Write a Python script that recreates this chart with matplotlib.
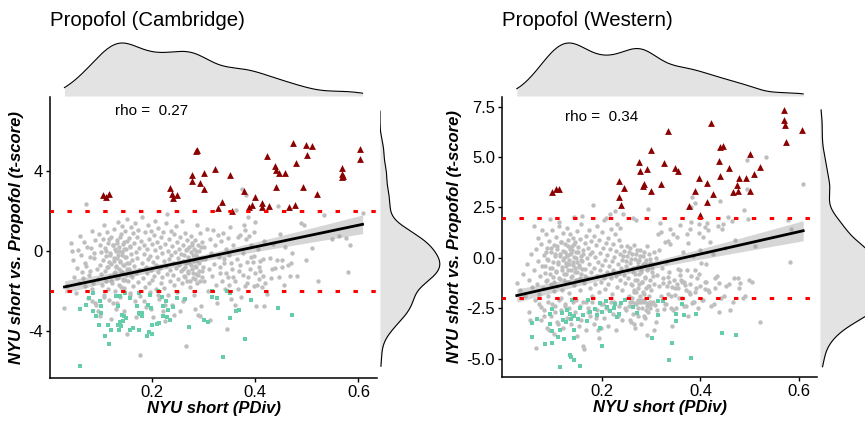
import numpy as np
import matplotlib.pyplot as plt

plt.rcParams['font.family'] = ['Liberation Sans', 'DejaVu Sans']

# ---------------- data ----------------
# x = NYU short (PDiv), y = t-score

cam_title = 'Propofol (Cambridge)'
cam_rho = 'rho =  0.27'

cam_grey = [
    (0.031, -2.85), (0.036, -1.75), (0.044, 0.38), (0.046, -0.03), (0.047, -0.45), (0.05, -1.3),
    (0.053, -2.1), (0.056, -0.85), (0.058, 0.05), (0.059, -1.6),
    (0.061, 0.75), (0.063, -0.2), (0.064, -1.05), (0.066, -1.37), (0.068, 0.45), (0.07, -1.78),
    (0.071, -0.6), (0.073, -0.78), (0.073, 2.37), (0.075, 0.2), (0.077, -2.35), (0.078, -1.2),
    (0.08, -1.03), (0.081, -0.3), (0.083, 0.13), (0.084, 1.0), (0.085, -1.9), (0.087, -1.62),
    (0.088, -0.1), (0.089, -0.37), (0.09, -2.6),
    (0.091, 0.55), (0.093, -2.7), (0.094, -0.9), (0.095, -1.4), (0.097, 0.85), (0.099, 0.3),
    (0.099, -0.7), (0.1, -3.28), (0.101, -1.15), (0.102, -0.05), (0.104, -1.7), (0.105, 0.6),
    (0.106, -0.45), (0.107, -2.2), (0.108, 1.3), (0.109, -1.0), (0.11, 0.15), (0.111, -0.25),
    (0.112, -1.5), (0.113, -0.8), (0.114, 0.95), (0.115, 0.38), (0.116, -1.9), (0.117, -0.55),
    (0.118, -2.45), (0.119, -0.1), (0.12, -1.25),
    (0.121, 0.7), (0.122, -0.65), (0.123, -1.6), (0.124, -2.62), (0.125, 0.3), (0.126, -0.35),
    (0.127, 1.1), (0.128, -1.05), (0.129, -2.0), (0.13, 0.0), (0.131, -2.9), (0.131, -0.8),
    (0.132, 0.55), (0.133, -1.35), (0.134, 1.45), (0.135, -0.2), (0.136, -1.7), (0.137, 0.2),
    (0.138, -0.5), (0.139, -2.3), (0.14, 0.85), (0.141, -1.0), (0.142, -0.05), (0.143, 1.25),
    (0.144, -1.45), (0.145, -0.7), (0.146, 0.45), (0.147, -1.85), (0.148, -0.3), (0.149, 1.0),
    (0.15, -1.15),
    (0.151, 0.1), (0.152, -4.17), (0.152, -0.6), (0.153, 1.6), (0.154, -1.5), (0.155, 0.65),
    (0.156, -0.9), (0.157, -2.1), (0.158, 0.25), (0.159, -0.15), (0.16, 1.2), (0.161, -1.3),
    (0.162, -0.45), (0.163, 0.9), (0.164, -1.75), (0.165, 0.4), (0.166, -0.75), (0.167, -2.5),
    (0.168, 1.4), (0.169, -0.05), (0.17, -1.1), (0.171, 0.7), (0.172, -0.35), (0.173, -1.55),
    (0.174, 1.05), (0.175, 0.15), (0.176, -0.95), (0.177, -2.25), (0.178, -5.23), (0.179, 0.5),
    (0.181, -0.6), (0.182, 1.7), (0.183, -1.35), (0.184, 0.3), (0.185, -0.15), (0.186, -1.8),
    (0.187, 0.95), (0.188, -0.8), (0.189, -2.8), (0.19, 0.1), (0.191, -1.1), (0.192, 1.3),
    (0.193, -0.4), (0.194, -1.6), (0.195, 0.6), (0.196, -0.25), (0.197, -2.05), (0.198, 1.0),
    (0.199, -0.95), (0.2, 0.35), (0.201, -1.45), (0.202, -3.3), (0.203, -0.55), (0.204, 0.8),
    (0.205, -1.25), (0.206, 0.05), (0.207, 1.5), (0.208, -0.7), (0.209, -1.9),
    (0.21, 0.45), (0.211, -0.3), (0.212, -1.05), (0.213, 1.15), (0.214, -2.4), (0.215, -0.85),
    (0.216, 0.2), (0.217, -1.6), (0.218, 0.7), (0.219, -0.1), (0.22, -1.3), (0.221, -3.0),
    (0.222, 0.95), (0.223, -0.5), (0.224, -1.85), (0.225, -3.53), (0.226, 0.35), (0.227, -0.75),
    (0.228, 1.4), (0.229, -1.15), (0.23, 1.87), (0.231, 0.0), (0.232, -2.2), (0.233, -0.4),
    (0.234, 0.6), (0.235, -1.5), (0.236, -0.95), (0.237, 1.0), (0.238, -0.2), (0.239, -2.7),
    (0.24, 0.25), (0.241, -1.2), (0.242, -0.6), (0.243, 0.85), (0.244, -1.7), (0.245, -0.05),
    (0.246, 1.25), (0.247, -0.85), (0.248, -2.05), (0.249, 0.45), (0.25, -0.35), (0.251, -1.4),
    (0.252, 0.1), (0.253, -0.7), (0.254, -3.03), (0.255, 0.7), (0.256, -1.0), (0.257, -0.15),
    (0.258, 1.5), (0.259, -1.6), (0.26, -0.5), (0.261, 0.3), (0.262, -1.25), (0.263, -2.4),
    (0.264, 0.9), (0.265, -0.8), (0.266, 0.05), (0.267, -4.75), (0.268, -1.5), (0.269, 0.55),
    (0.27, -0.3), (0.271, -1.1), (0.272, 0.2), (0.273, -0.6), (0.274, -1.8), (0.275, 0.75),
    (0.276, -0.05), (0.277, -0.9), (0.278, 0.4), (0.279, -1.35), (0.28, -0.45), (0.281, 0.1),
    (0.282, -2.2), (0.283, -0.75), (0.284, 0.55), (0.285, -1.15), (0.286, -0.2), (0.287, 1.3),
    (0.288, -1.6), (0.289, 0.3), (0.29, -3.2), (0.29, -0.55), (0.291, -1.0), (0.292, 0.0),
    (0.293, 0.9), (0.294, -3.28), (0.295, -0.35), (0.296, -2.78), (0.297, -1.3), (0.298, 0.45),
    (0.299, -0.8),
    (0.301, 0.2), (0.302, -1.5), (0.304, -0.4), (0.306, 1.1), (0.308, -2.0), (0.31, -0.9),
    (0.312, 0.6), (0.313, -3.45), (0.315, -0.1), (0.317, -1.25), (0.319, 1.03), (0.32, -0.65),
    (0.322, 0.3), (0.324, -1.7), (0.326, -2.6), (0.328, 0.8), (0.33, -0.3),
    (0.332, -1.1), (0.334, 0.5), (0.337, 0.9), (0.339, -0.6), (0.341, -1.9), (0.343, 0.1),
    (0.345, -3.9), (0.347, -1.3), (0.348, 0.62), (0.35, -0.2), (0.352, 1.2), (0.354, -2.4),
    (0.356, -0.9), (0.358, 0.3),
    (0.361, -2.7), (0.362, -1.5), (0.363, 2.07), (0.365, -0.4), (0.367, 0.7), (0.369, -1.0),
    (0.371, 0.78), (0.373, -2.33), (0.374, 3.12), (0.376, -0.1), (0.378, 1.28), (0.38, -1.75),
    (0.381, 1.03), (0.382, 2.82), (0.383, 0.6), (0.384, -0.58), (0.386, 1.7), (0.387, -1.3),
    (0.389, 0.73),
    (0.391, -0.9), (0.393, 0.3), (0.395, -0.58), (0.397, -1.78), (0.398, -0.25), (0.398, 0.95),
    (0.4, 1.47), (0.402, -2.78), (0.403, -1.7), (0.405, 0.1), (0.408, -1.4), (0.41, -0.53),
    (0.41, -1.0), (0.413, -1.83), (0.415, -0.42), (0.416, -1.28), (0.417, -2.75), (0.418, 0.5),
    (0.424, -2.15), (0.429, -0.37), (0.43, -1.37), (0.434, 0.35), (0.439, -0.87), (0.442, -0.45),
    (0.445, 2.23), (0.448, 0.83),
    (0.452, -0.45), (0.453, -0.83), (0.458, 0.2), (0.463, -0.7), (0.467, -1.28), (0.472, -0.1),
    (0.481, -1.25), (0.489, 1.4), (0.495, 1.32), (0.499, -0.45),
    (0.51, 0.15), (0.521, -1.53), (0.533, 1.82), (0.548, 0.6), (0.562, 0.73), (0.576, 0.62),
    (0.579, -1.08), (0.583, 0.27), (0.608, 1.9),
    # dense cores
    (0.112, 0.0), (0.115, -0.8), (0.118, 0.6), (0.12, -0.2), (0.122, -1.5), (0.124, 0.3),
    (0.126, -0.5), (0.127, -1.1), (0.129, 0.1), (0.13, -0.75), (0.132, 0.4), (0.133, -0.35),
    (0.134, -1.3), (0.136, 0.0), (0.137, -0.9), (0.138, 0.7), (0.139, -0.55), (0.14, -1.8),
    (0.142, -0.2), (0.143, -1.05), (0.144, 0.35), (0.146, -0.7), (0.147, 0.1), (0.148, -1.45),
    (0.15, -0.3), (0.152, 0.5), (0.153, -0.9), (0.155, -0.6), (0.157, 0.2), (0.159, -1.2),
    (0.26, -0.9), (0.262, -0.2), (0.264, -1.3), (0.266, -0.6), (0.268, 0.1), (0.27, -1.0),
    (0.272, -0.4), (0.274, -1.5), (0.276, -0.7), (0.277, 0.3), (0.279, -0.2), (0.28, -1.1),
    (0.282, -0.5), (0.283, -1.4), (0.285, 0.0), (0.286, -0.8), (0.288, -0.3), (0.289, -1.2),
    (0.291, -0.6), (0.293, -1.5), (0.295, 0.2), (0.297, -0.4), (0.298, -1.0),
    (0.332, -0.8), (0.336, -1.5), (0.34, -0.4), (0.344, -1.1), (0.349, -1.7), (0.353, -0.6),
    (0.357, -1.3), (0.366, -1.9), (0.37, -0.7), (0.377, -1.2), (0.385, -1.6), (0.392, -0.3),
    (0.4, -1.1), (0.407, -0.8), (0.42, -1.6), (0.432, -0.9), (0.446, -1.3), (0.456, -1.7),
    (0.47, -0.6),
    # grey among the squares
    (0.085, -2.5), (0.096, -3.0), (0.108, -2.3), (0.121, -3.4), (0.133, -2.6), (0.146, -3.0),
    (0.158, -2.2), (0.169, -3.3), (0.184, -2.5), (0.198, -2.9), (0.212, -2.2), (0.226, -2.7),
    (0.243, -3.2), (0.26, -2.5), (0.283, -2.9),
]

cam_up = [
    (0.105, 2.8), (0.112, 2.72), (0.118, 2.85), (0.235, 3.17), (0.239, 2.85), (0.248, 2.8),
    (0.241, 2.63), (0.286, 5.0), (0.288, 5.05), (0.278, 3.8), (0.278, 3.52), (0.294, 3.38),
    (0.301, 3.88), (0.301, 3.08), (0.323, 4.08), (0.335, 2.43), (0.329, 2.17), (0.351, 3.8),
    (0.356, 2.02), (0.379, 3.02), (0.389, 2.18), (0.394, 2.3), (0.4, 2.68), (0.414, 2.38),
    (0.414, 2.2), (0.426, 2.25), (0.423, 4.75), (0.439, 4.25), (0.441, 4.05), (0.447, 3.92),
    (0.458, 3.92), (0.441, 3.18), (0.466, 2.18), (0.474, 5.43), (0.477, 2.3), (0.48, 4.42),
    (0.492, 3.18), (0.498, 5.3), (0.5, 4.8), (0.51, 5.25), (0.52, 2.85), (0.569, 4.13),
    (0.569, 3.83), (0.57, 3.75), (0.569, 3.68), (0.603, 5.08), (0.603, 4.62),
]

cam_down = [
    (0.061, -2.9), (0.062, -5.78), (0.078, -2.37), (0.073, -2.7), (0.086, -2.12), (0.099, -2.53),
    (0.102, -2.78), (0.086, -3.03), (0.102, -3.1), (0.093, -3.28), (0.098, -3.7), (0.115, -3.73),
    (0.122, -3.95), (0.109, -4.28), (0.117, -4.65), (0.13, -2.28), (0.139, -2.28), (0.148, -2.12),
    (0.135, -2.78), (0.143, -3.2), (0.147, -3.25), (0.15, -3.35), (0.144, -3.5), (0.138, -3.55),
    (0.134, -3.7), (0.137, -3.95), (0.141, -3.75), (0.157, -2.37), (0.171, -2.78), (0.175, -3.1),
    (0.182, -3.1), (0.178, -3.15), (0.175, -2.12), (0.196, -2.23), (0.193, -2.7), (0.199, -2.87),
    (0.182, -3.28), (0.164, -3.87), (0.157, -3.95), (0.175, -3.95), (0.2, -3.73), (0.21, -3.67),
    (0.195, -4.07), (0.19, -4.28), (0.2, -4.17), (0.212, -2.03), (0.22, -2.33), (0.221, -2.78),
    (0.228, -2.53), (0.232, -2.95), (0.23, -3.33), (0.235, -3.45), (0.222, -3.28), (0.214, -3.62),
    (0.241, -2.83), (0.248, -2.37), (0.264, -2.4), (0.272, -3.83), (0.316, -2.03), (0.316, -2.33),
    (0.326, -2.37), (0.302, -3.45), (0.309, -3.57), (0.345, -2.03), (0.351, -2.12), (0.351, -3.37),
    (0.364, -3.0), (0.368, -2.97), (0.392, -2.47), (0.381, -4.42), (0.338, -5.32), (0.445, -2.87),
    (0.472, -3.22),
]

wes_title = 'Propofol (Western)'
wes_rho = 'rho =  0.34'

wes_grey = [
    (0.028, -1.24), (0.035, -1.6), (0.04, -0.8), (0.045, -1.9), (0.048, -0.3), (0.052, -2.68),
    (0.053, -1.1), (0.055, -3.09), (0.057, 0.2), (0.059, -1.45),
    (0.062, 1.6), (0.063, -0.6), (0.064, -2.1), (0.066, 0.45), (0.067, -4.46), (0.068, -1.3),
    (0.07, -0.15), (0.071, 1.0), (0.073, -1.8), (0.074, -0.9), (0.076, 0.7), (0.077, -2.45),
    (0.079, 1.36), (0.08, -0.4), (0.081, -1.5), (0.083, 0.15), (0.084, -2.9), (0.086, -0.75),
    (0.087, 1.2), (0.088, -1.15), (0.089, 0.5),
    (0.09, -0.05), (0.091, -1.9), (0.093, 0.85), (0.094, -3.6), (0.095, 1.93), (0.096, -0.5),
    (0.097, -1.3), (0.098, 0.3), (0.099, -2.3), (0.1, 1.4), (0.101, -0.2), (0.102, -0.95),
    (0.103, 0.65), (0.104, -1.65), (0.105, -2.7), (0.106, 0.1), (0.107, 1.05), (0.108, -0.65),
    (0.109, -1.4), (0.11, 0.45), (0.111, -3.3), (0.112, -0.3), (0.113, 1.6), (0.114, 1.77),
    (0.115, -1.05), (0.116, 0.2), (0.117, -2.0), (0.118, 0.8), (0.119, -0.45), (0.12, -1.6),
    (0.121, 0.35), (0.122, 1.25), (0.123, -0.8), (0.124, 0.0), (0.125, -2.4), (0.126, 0.7),
    (0.127, -0.25), (0.128, -1.2), (0.129, 1.5), (0.13, 0.15), (0.131, -0.6), (0.132, 0.9),
    (0.133, -1.75), (0.134, -0.1), (0.135, 1.19), (0.136, 0.45), (0.137, -0.95), (0.138, 0.25),
    (0.139, -2.9), (0.14, 0.6), (0.141, -0.35), (0.142, 1.0), (0.143, -1.35), (0.143, 2.03),
    (0.144, 0.05), (0.145, -0.7), (0.146, 0.8), (0.147, -2.1), (0.148, 0.3), (0.149, -0.2),
    (0.15, 1.35),
    (0.151, -1.1), (0.152, 0.55), (0.153, -0.45), (0.154, -3.4), (0.155, 0.95), (0.156, -1.6),
    (0.157, 0.1), (0.158, -0.8), (0.159, 1.7), (0.16, 2.07), (0.161, -0.15), (0.162, -4.38),
    (0.163, 0.4), (0.164, -4.5), (0.165, -1.25), (0.166, 0.75), (0.167, -0.55), (0.168, -2.2),
    (0.169, 1.1), (0.17, 0.0), (0.171, -1.0), (0.172, 0.5), (0.173, -2.7), (0.174, -0.3),
    (0.175, 1.4), (0.176, -1.5), (0.177, 0.2), (0.178, -0.7), (0.179, 0.85),
    (0.18, -1.9), (0.181, 0.3), (0.183, 2.61), (0.184, -0.5), (0.185, 1.1), (0.186, -1.3),
    (0.187, 0.05), (0.188, -3.0), (0.189, 0.65), (0.19, -0.9), (0.191, 1.6), (0.192, -3.59),
    (0.193, -0.2), (0.194, -1.7), (0.195, 0.9), (0.196, -0.6), (0.197, 0.25), (0.198, -3.47),
    (0.199, -1.2), (0.2, 1.3), (0.201, -0.35), (0.202, -2.3), (0.203, 0.5), (0.204, -1.0),
    (0.205, 1.9), (0.206, -0.1), (0.207, -1.55), (0.208, 0.75), (0.209, 1.97),
    (0.21, -0.7), (0.211, 0.15), (0.212, -1.3), (0.213, 1.0), (0.214, -2.6), (0.215, -0.4),
    (0.216, 0.45), (0.217, 2.18), (0.218, -1.0), (0.219, 1.45), (0.22, -0.15), (0.221, -1.8),
    (0.222, 0.7), (0.223, -0.6), (0.224, 0.05), (0.225, -2.2), (0.226, 1.2), (0.227, 2.3),
    (0.228, -0.9), (0.229, 0.35), (0.23, -1.45), (0.231, 1.7), (0.232, -0.3), (0.233, -2.9),
    (0.234, 0.9), (0.235, -0.75), (0.236, 0.2), (0.237, -1.1), (0.238, 1.5), (0.239, -0.5),
    (0.24, 0.6), (0.241, -1.6), (0.242, -0.1), (0.243, 0.1), (0.244, 2.2), (0.245, -0.85),
    (0.246, 0.35), (0.247, -1.25), (0.248, -2.5), (0.249, -0.15), (0.25, -0.4), (0.251, 0.6),
    (0.252, 0.1), (0.253, -1.0), (0.254, -0.6), (0.255, 0.3), (0.256, -1.9), (0.257, 0.5),
    (0.258, -0.25), (0.259, -3.2), (0.26, -0.05), (0.261, -1.35), (0.262, 0.2), (0.263, -0.7),
    (0.264, 2.0), (0.265, -1.7), (0.266, 0.65), (0.267, -0.05), (0.268, -1.1), (0.269, 0.2),
    (0.27, 1.9), (0.271, -0.45), (0.272, 0.4), (0.273, -1.5), (0.274, -0.2), (0.275, -0.1),
    (0.276, -0.8), (0.277, 0.4), (0.278, 0.1), (0.279, -2.1), (0.28, -0.6), (0.281, -0.4),
    (0.282, -1.2), (0.283, 0.1), (0.284, -0.3), (0.285, 0.3), (0.286, -1.8), (0.287, -0.95),
    (0.288, -0.25), (0.289, -0.1), (0.29, -2.6), (0.291, 0.6), (0.292, -3.83), (0.293, -0.55),
    (0.294, 2.4), (0.295, 0.2), (0.296, -1.4), (0.297, -0.05), (0.298, -0.25), (0.299, -2.3),
    (0.301, -0.5), (0.303, -0.9), (0.305, 0.3), (0.306, -3.6), (0.308, -2.36), (0.309, 0.0),
    (0.311, -0.86), (0.311, -2.6), (0.313, 1.16), (0.315, -1.4), (0.316, 0.4), (0.318, 1.72),
    (0.321, 1.27), (0.322, -0.5), (0.325, -1.27), (0.327, -2.56), (0.328, 0.8),
    (0.331, -0.2), (0.335, 0.86), (0.335, -0.94), (0.335, -1.8), (0.338, 1.44), (0.338, 0.69),
    (0.34, -2.48), (0.342, -1.44), (0.342, -3.39), (0.345, 1.19), (0.348, -1.85), (0.352, 1.02),
    (0.352, -1.31), (0.355, -0.53), (0.359, -0.86), (0.359, 1.65),
    (0.362, -1.19), (0.365, 0.3), (0.369, -1.36), (0.372, 1.19), (0.372, -0.58), (0.375, 0.73),
    (0.379, 1.44), (0.379, -1.77), (0.381, 1.77), (0.381, 2.51), (0.382, 3.01), (0.382, -2.26),
    (0.385, 0.1), (0.389, 2.71), (0.389, -0.58), (0.393, -1.0), (0.396, 1.69), (0.396, 1.22),
    (0.399, 0.4),
    (0.401, -0.25), (0.406, 1.02), (0.409, 1.52), (0.409, -1.52), (0.411, -0.31), (0.413, 1.72),
    (0.416, 1.36), (0.416, -1.6), (0.419, 0.78), (0.425, 0.2), (0.429, -0.98), (0.436, 1.6),
    (0.438, -1.27), (0.44, 2.84), (0.443, 1.44), (0.446, 1.69), (0.45, 0.5),
    (0.455, 2.02), (0.463, 1.85), (0.467, -0.98), (0.47, 0.9), (0.481, -1.27), (0.489, 2.38),
    (0.494, 4.83), (0.494, 3.42), (0.497, 1.93), (0.51, 0.6), (0.52, -3.17), (0.533, 4.99),
    (0.578, 1.88), (0.581, -0.2), (0.583, 1.44), (0.608, 3.67),
    # dense cores
    (0.085, -0.4), (0.088, 0.3), (0.09, -1.1), (0.092, -0.1), (0.095, -0.8), (0.098, 0.5),
    (0.1, -0.5), (0.103, -1.2), (0.105, 0.2), (0.108, -0.7), (0.11, 0.6), (0.112, -0.2),
    (0.114, -1.0), (0.116, 0.1), (0.118, 0.8), (0.12, -0.6), (0.122, -0.1), (0.124, -1.1),
    (0.125, 0.3), (0.127, -0.4), (0.128, -0.8), (0.13, 0.1), (0.131, 0.6), (0.133, -0.3),
    (0.134, -1.2), (0.136, 0.2), (0.137, -0.6), (0.139, 0.4), (0.14, -0.9), (0.142, -0.2),
    (0.144, 0.7), (0.145, -0.5), (0.147, -1.1), (0.148, 0.0), (0.15, -0.7), (0.152, 0.3),
    (0.154, -0.35), (0.156, -1.0), (0.158, -0.1), (0.16, -0.55), (0.163, 0.2), (0.166, -0.9),
    (0.26, -1.3), (0.262, -2.0), (0.264, -0.5), (0.265, -1.6), (0.267, -2.25), (0.268, -0.8),
    (0.27, -1.7), (0.271, -1.1), (0.273, -2.1), (0.274, -0.4), (0.276, -1.3), (0.277, -1.9),
    (0.279, -0.7), (0.28, -2.2), (0.282, -1.2), (0.283, -1.7), (0.285, -0.3), (0.286, -2.1),
    (0.288, -1.0), (0.289, -1.5), (0.291, -2.25), (0.292, -0.6), (0.294, -1.4), (0.295, -1.9),
    (0.297, -1.1), (0.298, -2.5), (0.3, -1.6), (0.302, -0.7), (0.304, -2.2), (0.306, -1.3),
    (0.32, -1.9), (0.324, -1.0), (0.329, -2.3), (0.333, -1.4), (0.337, -0.7), (0.341, -1.9),
    (0.346, -1.1), (0.35, -2.5), (0.354, -1.5), (0.358, -0.6), (0.363, -2.0), (0.367, -1.2),
    (0.371, -2.4), (0.376, -1.7), (0.38, -0.9), (0.386, -2.2), (0.391, -1.5), (0.397, -0.8),
    (0.403, -2.1), (0.41, -1.2), (0.418, -1.7), (0.427, -2.3), (0.433, -0.9), (0.442, -2.0),
    (0.452, -1.4), (0.46, -2.6), (0.475, -1.0), (0.49, -1.9), (0.505, -1.2),
    (0.331, -2.3), (0.336, -1.2), (0.344, -2.6), (0.349, -1.5), (0.356, -2.0), (0.361, -1.1),
    (0.366, -2.4), (0.37, -1.6), (0.374, -2.9), (0.378, -1.3), (0.384, -2.2), (0.388, -1.7),
    (0.394, -2.5), (0.399, -1.4), (0.405, -2.1), (0.412, -1.2), (0.421, -2.4), (0.43, -1.5),
    (0.437, -2.7), (0.448, -1.9), (0.458, -1.3), (0.466, -2.2), (0.478, -1.5), (0.486, -2.0),
    (0.498, -1.1),
    # grey among the squares
    (0.072, -2.3), (0.078, -3.1), (0.083, -2.6), (0.089, -3.5), (0.092, -2.2), (0.097, -2.9),
    (0.103, -3.8), (0.106, -2.4), (0.11, -3.2), (0.113, -2.1), (0.118, -2.6), (0.121, -3.5),
    (0.126, -2.3), (0.13, -3.0), (0.134, -2.5), (0.138, -3.3), (0.142, -2.2), (0.146, -2.7),
    (0.15, -3.9), (0.155, -2.4), (0.159, -3.1), (0.163, -2.2), (0.168, -3.6), (0.172, -2.5),
    (0.177, -2.9), (0.181, -2.2), (0.185, -3.3), (0.19, -2.6), (0.194, -4.0), (0.199, -2.3),
    (0.204, -3.0), (0.208, -2.5), (0.213, -3.4), (0.218, -2.2), (0.223, -2.8), (0.228, -3.6),
    (0.235, -2.4), (0.242, -3.1), (0.25, -2.6), (0.257, -2.2), (0.265, -3.3), (0.274, -2.5),
    (0.285, -2.9), (0.296, -2.3), (0.31, -3.2),
    (0.255, -2.4), (0.258, -3.1), (0.261, -2.2), (0.264, -2.8), (0.267, -3.5), (0.27, -2.3),
    (0.273, -2.9), (0.276, -2.2), (0.279, -3.3), (0.282, -2.5), (0.285, -2.2), (0.288, -3.0),
    (0.291, -2.4), (0.294, -2.7), (0.297, -2.2),
]

wes_up = [
    (0.1, 3.26), (0.108, 3.4), (0.114, 3.4), (0.235, 3.79), (0.246, 3.49), (0.234, 3.04),
    (0.24, 2.63), (0.275, 4.74), (0.277, 4.33), (0.292, 4.4), (0.299, 5.36), (0.283, 3.57),
    (0.286, 3.64), (0.299, 3.31), (0.321, 3.64), (0.334, 6.31), (0.327, 4.71), (0.348, 4.45),
    (0.355, 4.33), (0.397, 3.98), (0.389, 3.31), (0.377, 2.55), (0.399, 2.13), (0.413, 2.79),
    (0.414, 3.72), (0.425, 3.19), (0.421, 6.71), (0.44, 5.49), (0.446, 5.57), (0.438, 4.79),
    (0.439, 4.08), (0.457, 4.46), (0.465, 3.26), (0.473, 3.59), (0.477, 3.31), (0.479, 3.97),
    (0.493, 3.97), (0.5, 3.34), (0.5, 5.16), (0.509, 4.15), (0.52, 4.53), (0.57, 7.34),
    (0.57, 6.86), (0.572, 6.61), (0.573, 5.77), (0.605, 6.36),
]

wes_down = [
    (0.058, -3.22), (0.059, -3.92), (0.085, -4.28), (0.1, -4.2), (0.095, -3.29), (0.099, -3.64),
    (0.095, -2.76), (0.099, -2.55), (0.068, -3.04), (0.116, -3.59), (0.112, -3.95), (0.124, -4.02),
    (0.143, -3.98), (0.143, -3.59), (0.135, -4.83), (0.137, -4.94), (0.143, -5.07), (0.116, -5.4),
    (0.156, -5.36), (0.122, -3.09), (0.128, -3.17), (0.137, -3.01), (0.143, -2.89), (0.151, -3.01),
    (0.135, -2.76), (0.129, -2.6), (0.119, -2.73), (0.156, -2.51), (0.139, -2.1), (0.163, -2.84),
    (0.171, -3.12), (0.176, -2.68), (0.187, -2.56), (0.191, -2.84), (0.2, -2.68), (0.197, -2.26),
    (0.209, -2.13), (0.21, -2.43), (0.217, -2.63), (0.224, -2.51), (0.227, -2.3), (0.23, -2.93),
    (0.234, -2.76), (0.24, -2.23), (0.247, -2.07), (0.263, -2.43), (0.271, -2.73), (0.301, -3.97),
    (0.201, -4.38), (0.173, -2.1), (0.197, -3.5), (0.313, -2.15), (0.325, -2.13), (0.313, -2.83),
    (0.343, -4.2), (0.337, -5.07), (0.35, -2.79), (0.35, -3.14), (0.367, -2.81), (0.381, -4.96),
    (0.391, -2.76), (0.363, -2.3), (0.444, -3.75), (0.472, -3.82),
]

rho_pos = (0.2, 7.0)
cutoff = 2

# ---------------- helpers ----------------
W, H = 865, 421


def rect(x0, y0, x1, y1):
    # pixel box (top-left origin) -> figure fraction
    return [x0 / W, 1 - y1 / H, (x1 - x0) / W, (y1 - y0) / H]


def kde(vals, grid):
    vals = np.asarray(vals)
    n = len(vals)
    iqr = np.subtract(*np.percentile(vals, [75, 25]))
    bw = 0.9 * min(vals.std(ddof=1), iqr / 1.34) * n ** -0.2
    z = (grid[:, None] - vals[None, :]) / bw
    return np.exp(-0.5 * z ** 2).sum(axis=1) / (n * bw * np.sqrt(2 * np.pi))


def draw_panel(fig, box, grey, up, down, title, rho, xlim, ylim, yticks, yticklabels):
    x0, y0, x1, y1 = box
    grey, up, down = np.array(grey), np.array(up), np.array(down)
    pts = np.vstack([grey, up, down])
    x, y = pts[:, 0], pts[:, 1]

    ax = fig.add_axes(rect(x0, y0, x1, y1))
    ax.scatter(grey[:, 0], grey[:, 1], s=10, color='#bebebe', lw=0, zorder=2)
    ax.scatter(up[:, 0], up[:, 1], s=24, marker='^', color='#8b0000', lw=0, zorder=3)
    ax.scatter(down[:, 0], down[:, 1], s=11, marker='s', color='#66cdaa', lw=0, zorder=3)

    # linear fit with 95% band
    X = np.column_stack([np.ones_like(x), x])
    beta = np.linalg.lstsq(X, y, rcond=None)[0]
    resid = y - X @ beta
    s2 = resid @ resid / (len(x) - 2)
    cov = s2 * np.linalg.inv(X.T @ X)
    xs = np.linspace(x.min(), x.max(), 100)
    Xs = np.column_stack([np.ones_like(xs), xs])
    fit = Xs @ beta
    se = np.sqrt(np.sum((Xs @ cov) * Xs, axis=1))
    ax.fill_between(xs, fit - 1.965 * se, fit + 1.965 * se, color='#999999', alpha=0.4, lw=0, zorder=4)
    ax.plot(xs, fit, color='black', lw=2, zorder=5)

    for h in (cutoff, -cutoff):
        ax.axhline(h, color='red', lw=2.2, linestyle=(0.3, (1.45, 4.4)), zorder=6)

    ax.text(rho_pos[0], rho_pos[1], rho, ha='center', va='center', fontsize=11)

    ax.set_xlim(*xlim)
    ax.set_ylim(*ylim)
    ax.set_xticks([0.2, 0.4, 0.6])
    ax.set_xticklabels(['0.2', '0.4', '0.6'])
    ax.set_yticks(yticks)
    ax.set_yticklabels(yticklabels)
    ax.tick_params(labelsize=12, length=3, width=1, pad=2, colors='black')
    for side in ('top', 'right'):
        ax.spines[side].set_visible(False)
    for side in ('left', 'bottom'):
        ax.spines[side].set_linewidth(1.1)
    ax.set_xlabel('NYU short (PDiv)', fontsize=12, fontweight='bold', fontstyle='italic', labelpad=1)
    ax.set_ylabel('NYU short vs. Propofol (t-score)', fontsize=12, fontweight='bold',
                  fontstyle='italic', labelpad=3)

    # top marginal density
    axt = fig.add_axes(rect(x0, 40, x1, 96))
    gx = np.linspace(min(x.min(), rho_pos[0]), max(x.max(), rho_pos[0]), 300)
    dx = kde(x, gx)
    axt.fill_between(gx, 0, dx, color='#e3e3e3', lw=0)
    axt.plot(gx, dx, color='black', lw=0.8)
    axt.set_xlim(*xlim)
    axt.set_ylim(0, dx.max() * 56 / 53)
    axt.axis('off')

    # right marginal density
    axr = fig.add_axes(rect(x1 + 3, y0, x1 + 64, y1))
    gy = np.linspace(min(y.min(), rho_pos[1]), max(y.max(), rho_pos[1]), 300)
    dy = kde(y, gy)
    axr.fill_betweenx(gy, 0, dy, color='#e3e3e3', lw=0)
    axr.plot(dy, gy, color='black', lw=0.8)
    axr.set_ylim(*ylim)
    axr.set_xlim(0, dy.max() * 1.02)
    axr.axis('off')

    fig.text(x0 / W, 1 - 21 / H, title, fontsize=14.7, ha='left', va='center')


fig = plt.figure(figsize=(8.65, 4.21), dpi=100)

draw_panel(fig, (50, 97, 377, 378), cam_grey, cam_up, cam_down, cam_title, cam_rho,
           (0.003, 0.636), (-6.37, 7.71), [-4, 0, 4], ['-4', '0', '4'])
draw_panel(fig, (502, 97, 817, 377), wes_grey, wes_up, wes_down, wes_title, wes_rho,
           (-0.002, 0.636), (-5.91, 7.98), [-5, -2.5, 0, 2.5, 5, 7.5],
           ['-5.0', '-2.5', '0.0', '2.5', '5.0', '7.5'])

fig.savefig('out.png', dpi=100)
